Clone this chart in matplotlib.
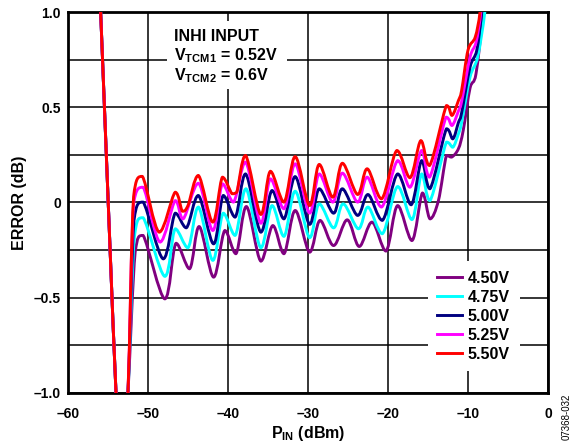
import numpy as np
import matplotlib
matplotlib.use("Agg")
from matplotlib import pyplot as plt
from matplotlib.patches import Rectangle, PathPatch
from matplotlib.path import Path
from matplotlib.lines import Line2D

plt.rcParams["font.family"] = ["Liberation Sans", "DejaVu Sans"]
plt.rcParams["font.weight"] = "bold"
plt.rcParams["axes.labelweight"] = "bold"
plt.rcParams["mathtext.fontset"] = "custom"
plt.rcParams["mathtext.rm"] = "Liberation Sans:bold"
plt.rcParams["mathtext.bf"] = "Liberation Sans:bold"
plt.rcParams["mathtext.it"] = "Liberation Sans:bold"

# supply voltages (legend order)
labels = ["4.50V", "4.75V", "5.00V", "5.25V", "5.50V"]
colors = ["#800080", "#00FFFF", "#000080", "#FF00FF", "#FF0000"]

# P_IN (dBm) / error (dB), one pair per curve
pin_450 = [-56.2, -53.3, -52.5, -51.6, -50.6, -47.9, -46.5, -44.8, -43.6, -41.8, -40.4, -39.0,
           -37.7, -35.9, -34.4, -33.0, -31.6, -29.8, -28.5, -26.8, -25.1, -23.6, -22.0, -20.25,
           -18.8, -17.0, -15.7, -14.75, -13.7, -12.7, -12.05, -11.2, -10.6, -9.75, -9.0, -8.1, -7.7]
err_450 = [1.3, -1.6, -1.0, -0.26, -0.173, -0.506, -0.214, -0.348, -0.126, -0.392, -0.147, -0.269,
           -0.021, -0.308, -0.121, -0.269, -0.042, -0.261, -0.094, -0.226, -0.091, -0.231, -0.103, -0.255,
           -0.016, -0.2, 0.05, -0.086, 0.01, 0.247, 0.238, 0.282, 0.378, 0.60, 0.676, 1.0, 1.2]

pin_475 = [-56.2, -53.3, -52.5, -51.7, -50.6, -47.9, -46.6, -45.0, -43.7, -41.9, -40.6, -39.1,
           -37.75, -35.9, -34.5, -33.0, -31.6, -29.8, -28.6, -26.8, -25.6, -23.7, -22.5, -20.7,
           -18.8, -17.0, -15.8, -14.75, -12.7, -11.9, -11.2, -10.8, -9.75, -8.8, -7.9, -7.6]
err_475 = [1.3, -1.6, -1.0, -0.18, -0.08, -0.388, -0.138, -0.238, -0.024, -0.304, -0.056, -0.173,
           0.072, -0.238, -0.016, -0.178, 0.059, -0.185, -0.007, -0.133, -0.007, -0.138, -0.024, -0.164,
           0.084, -0.09, 0.15, 0.01, 0.317, 0.29, 0.36, 0.42, 0.658, 0.763, 1.0, 1.2]

pin_500 = [-56.2, -53.3, -52.5, -51.75, -50.6, -48.1, -46.6, -45.2, -43.7, -41.8, -40.6, -39.1,
           -37.8, -35.9, -34.5, -33.0, -31.6, -29.8, -28.6, -26.8, -25.7, -23.8, -22.5, -20.7,
           -18.8, -17.1, -15.8, -14.75, -12.7, -11.9, -11.2, -10.8, -9.75, -8.9, -8.3, -8.0]
err_500 = [1.3, -1.6, -1.0, -0.094, 0.002, -0.296, -0.056, -0.133, 0.037, -0.217, 0.037, -0.077,
           0.15, -0.156, 0.063, -0.086, 0.136, -0.115, 0.072, -0.056, 0.072, -0.068, 0.042, -0.094,
           0.15, -0.012, 0.22, 0.072, 0.387, 0.334, 0.42, 0.47, 0.71, 0.80, 1.0, 1.2]

pin_525 = [-56.2, -53.3, -52.5, -51.8, -50.6, -48.5, -46.6, -45.6, -43.7, -41.9, -40.7, -39.3,
           -37.8, -35.9, -34.7, -33.0, -31.6, -29.8, -28.6, -26.9, -25.7, -23.8, -22.6, -20.8,
           -18.8, -17.25, -15.8, -14.8, -12.75, -12.0, -11.2, -10.8, -9.75, -9.0, -8.4, -8.1]
err_525 = [1.3, -1.6, -1.0, -0.007, 0.08, -0.208, 0.01, -0.086, 0.101, -0.147, 0.098, 0.002,
           0.212, -0.109, 0.124, -0.033, 0.203, -0.056, 0.15, 0.002, 0.154, 0.002, 0.133, -0.024,
           0.22, 0.08, 0.273, 0.133, 0.448, 0.404, 0.48, 0.53, 0.763, 0.84, 1.0, 1.2]

pin_550 = [-56.2, -53.3, -52.5, -51.8, -50.7, -48.6, -46.6, -45.7, -45.0, -43.7, -41.9,
           -40.7, -39.5, -38.9, -37.8, -35.9, -34.7, -33.0, -31.6, -29.8, -28.6, -26.9, -25.7,
           -23.8, -22.6, -20.8, -18.9, -17.25, -15.9, -14.8, -12.7, -12.0, -11.2, -10.8, -10.0,
           -9.1, -8.5, -8.2]
err_550 = [1.3, -1.6, -1.0, 0.03, 0.137, -0.156, 0.054, -0.046, -0.016, 0.142, -0.103,
           0.133, 0.046, 0.054, 0.247, -0.063, 0.164, 0.002, 0.241, -0.016, 0.2, 0.028, 0.206,
           0.042, 0.177, 0.019, 0.273, 0.13, 0.325, 0.194, 0.509, 0.457, 0.535, 0.588, 0.80,
           0.868, 1.0, 1.2]

pins = [pin_450, pin_475, pin_500, pin_525, pin_550]
errs = [err_450, err_475, err_500, err_525, err_550]


def smooth_path(x, y):
    # cubic bezier through every point, control points kept inside each segment's y range
    pts = np.column_stack([x, y]).astype(float)
    verts = [pts[0]]
    codes = [Path.MOVETO]
    n = len(pts)
    for i in range(n - 1):
        p0 = pts[i - 1] if i > 0 else pts[i]
        p1 = pts[i]
        p2 = pts[i + 1]
        p3 = pts[i + 2] if i + 2 < n else pts[i + 1]
        c1 = p1 + (p2 - p0) / 6
        c2 = p2 - (p3 - p1) / 6
        lo, hi = min(p1[1], p2[1]), max(p1[1], p2[1])
        c1[1] = np.clip(c1[1], lo, hi)
        c2[1] = np.clip(c2[1], lo, hi)
        verts += [c1, c2, p2]
        codes += [Path.CURVE4] * 3
    return Path(verts, codes)


fig = plt.figure(figsize=(5.79, 4.48), dpi=100)
ax = fig.add_axes([0.1174, 0.1228, 0.8291, 0.8504])

handles = []
for x, y, c, lab in zip(pins, errs, colors, labels):
    ax.add_patch(PathPatch(smooth_path(x, y), fill=False, edgecolor=c, lw=2.1,
                           joinstyle="round", zorder=3))
    handles.append(Line2D([], [], color=c, lw=2.1, label=lab))

ax.set_xlim(-60, 0)
ax.set_ylim(-1.0, 1.0)
ax.set_xticks(np.arange(-60, 1, 10))
ax.set_xticklabels(["\u201360", "\u201350", "\u201340", "\u201330", "\u201320", "\u201310", "0"])
ax.set_yticks([-1.0, -0.5, 0, 0.5, 1.0])
ax.set_yticklabels(["\u20131.0", "\u20130.5", "0", "0.5", "1.0"])
ax.set_yticks(np.arange(-1.0, 1.01, 0.25), minor=True)
ax.grid(True, which="both", color="black", lw=1.1, zorder=1)
ax.tick_params(which="both", length=0, labelsize=10)
ax.tick_params(axis="x", pad=10)
ax.tick_params(axis="y", pad=5)
for s in ax.spines.values():
    s.set_linewidth(2)

# white patch behind the annotation text
ax.add_patch(Rectangle((-47.66, 0.598), 15.0, 0.357, facecolor="white", edgecolor="none", zorder=2))
ax.text(-46.75, 0.850, "INHI INPUT", fontsize=11.5, va="baseline", zorder=4)
ax.text(-46.75, 0.745, r"V$_{\mathbf{TCM1}}$ = 0.52V", fontsize=11.5, va="baseline", zorder=4)
ax.text(-46.75, 0.640, r"V$_{\mathbf{TCM2}}$ = 0.6V", fontsize=11.5, va="baseline", zorder=4)

leg = ax.legend(handles=handles, loc="upper left", bbox_to_anchor=(0.733, 0.367), fontsize=11.5,
                frameon=True, facecolor="white", edgecolor="none", framealpha=1, fancybox=False,
                handlelength=1.56, labelspacing=0.25, handletextpad=0.35, borderpad=0.6)
leg.set_zorder(5)

ax.set_xlabel(r"P$_{\mathbf{IN}}$ (dBm)", fontsize=11.5, labelpad=2)
ax.set_ylabel("ERROR (dB)", fontsize=11.5, labelpad=5)

fig.text(0.979, 0.069, "07368-032", rotation=90, fontsize=7, fontweight="normal",
         ha="center", va="center")

fig.savefig("out.png", dpi=100)
